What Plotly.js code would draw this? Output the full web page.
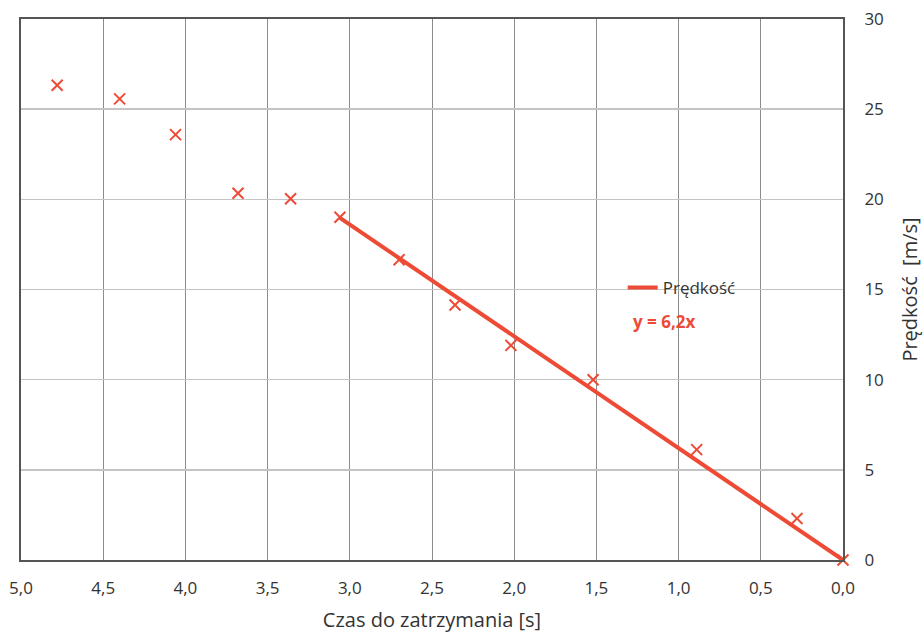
<!DOCTYPE html>
<html>
<head>
<meta charset="utf-8">
<script src="https://cdn.plot.ly/plotly-3.0.1.min.js"></script>
<style>html,body{margin:0;padding:0;background:#fff;}#chart{width:924px;height:633px;}</style>
</head>
<body>
<div id="chart"></div>
<script>
// Measured points: time before stop [s] and speed [m/s]
const czas = [4.78, 4.40, 4.06, 3.68, 3.36, 3.06, 2.70, 2.36, 2.02, 1.52, 0.89, 0.28, 0.0];
const predkosc = [26.33, 25.57, 23.59, 20.34, 20.03, 19.01, 16.65, 14.14, 11.90, 10.00, 6.12, 2.30, 0.0];
// Trend line y = 6.2x
const trendX = [3.06, 0.0];
const wspolczynnik = 6.2;
const trendY = trendX.map(v => v * wspolczynnik);
const xTicks = [5.0, 4.5, 4.0, 3.5, 3.0, 2.5, 2.0, 1.5, 1.0, 0.5, 0.0];
const yTicks = [0, 5, 10, 15, 20, 25, 30];

const red = '#EE4B36';
const font = 'Open Sans, Noto Sans, sans-serif';

const traces = [
  {
    x: trendX, y: trendY, mode: 'lines', name: 'Prędkość',
    line: {color: red, width: 4}, showlegend: true, hoverinfo: 'skip', cliponaxis: false
  },
  {
    x: czas, y: predkosc, mode: 'markers', name: 'pomiar',
    marker: {symbol: 'x-thin-open', size: 11, color: red, line: {color: red, width: 2}},
    showlegend: false, cliponaxis: false
  }
];

const layout = {
  width: 924, height: 633,
  margin: {l: 21, r: 81, t: 19, b: 72.5},
  paper_bgcolor: '#fff', plot_bgcolor: '#fff',
  separators: ', ',
  font: {family: font, color: '#333', size: 17},
  showlegend: true,
  legend: {
    x: 0.732, y: 0.536, xanchor: 'left', yanchor: 'top',
    bgcolor: 'rgba(0,0,0,0)', font: {family: font, size: 17, color: '#333'}
  },
  xaxis: {
    range: [5, 0], autorange: false,
    tickvals: xTicks, tickformat: '.1f',
    showgrid: true, gridcolor: '#8c8c8c', gridwidth: 1,
    showline: true, linecolor: '#555', linewidth: 2, mirror: true,
    zeroline: false, ticks: '', ticklabelstandoff: 12,
    tickfont: {family: font, size: 17, color: '#333'},
    title: {text: 'Czas do zatrzymania [s]', font: {family: font, size: 20, color: '#333'}, standoff: 15}
  },
  yaxis: {
    range: [0, 30], autorange: false, side: 'right',
    tickvals: yTicks,
    showgrid: true, gridcolor: '#c4c4c4', gridwidth: 1.5,
    showline: true, linecolor: '#555', linewidth: 2, mirror: true,
    zeroline: false, ticks: '', ticklabelstandoff: 16,
    tickfont: {family: font, size: 17, color: '#333'},
    title: {text: 'Prędkość  [m/s]', font: {family: font, size: 20, color: '#333'}, standoff: 20}
  },
  annotations: [
    {
      xref: 'paper', yref: 'paper', x: (631 - 21) / 822, y: (560.5 - 322) / 541.5,
      xanchor: 'left', yanchor: 'middle', showarrow: false,
      text: '<b>y = 6,2x</b>', font: {family: font, size: 17, color: red}
    }
  ]
};

Plotly.newPlot('chart', traces, layout, {displayModeBar: false, staticPlot: true});
</script>
</body>
</html>
